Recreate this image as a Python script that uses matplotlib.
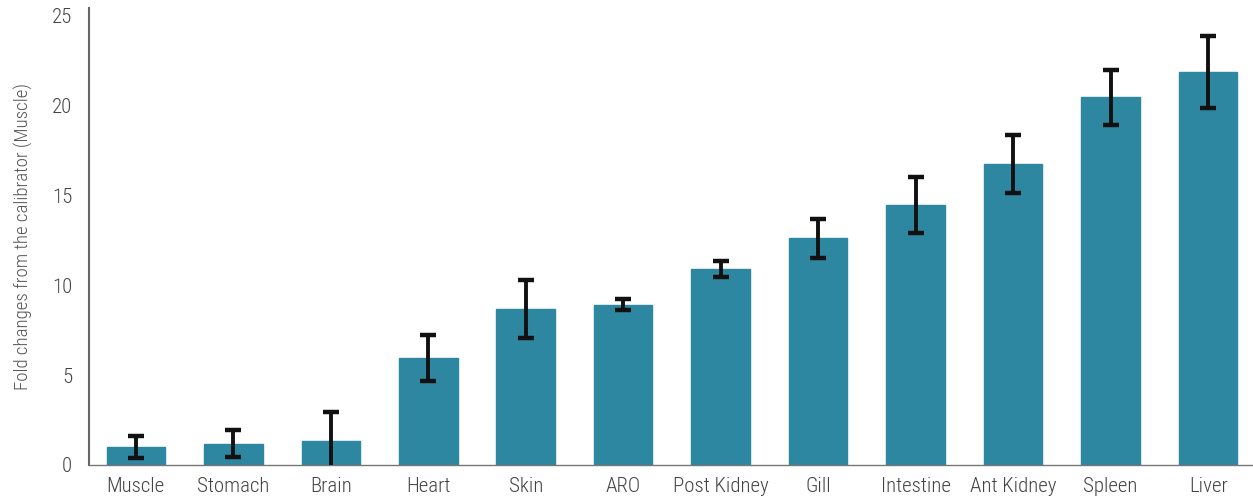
import matplotlib
matplotlib.use("Agg")
import matplotlib.pyplot as plt
from matplotlib import font_manager

categories = ["Muscle", "Stomach", "Brain", "Heart", "Skin", "ARO", "Post Kidney",
              "Gill", "Intestine", "Ant Kidney", "Spleen", "Liver"]
values = [1.0, 1.17, 1.33, 5.94, 8.67, 8.92, 10.89, 12.6, 14.44, 16.72, 20.44, 21.83]
errors = [0.62, 0.75, 1.6, 1.28, 1.6, 0.33, 0.45, 1.1, 1.55, 1.6, 1.53, 2.0]
yticks = [0, 5, 10, 15, 20, 25]

names = {f.name for f in font_manager.fontManager.ttflist}
fams = [n for n in ["Roboto Condensed", "Roboto"] if n in names] + ["DejaVu Sans"]
plt.rcParams['font.family'] = fams

fig = plt.figure(figsize=(12.53, 4.99), dpi=100)
ax = fig.add_axes([89/1253, 34/499, 1 - 89/1253, (465-8)/499])

x = list(range(len(categories)))
ax.bar(x, values, width=0.6, color="#2e87a0", edgecolor="#2e87a0", zorder=2)
ax.errorbar(x, values, yerr=errors, fmt="none", ecolor="#111111", elinewidth=2.8,
            capsize=6, capthick=3.2, zorder=3)

ax.set_xlim(-0.48, 11.46)
ax.set_ylim(0, 25.4)
ax.set_yticks(yticks)
ax.set_yticklabels([str(t) for t in yticks])
ax.set_xticks(x)
ax.set_xticklabels(categories)
for lab in ax.get_xticklabels() + ax.get_yticklabels():
    lab.set_fontweight("light")
ax.tick_params(axis="both", length=0, labelsize=15, colors="#444444")
ax.tick_params(axis="y", pad=12)
ax.tick_params(axis="x", pad=9)
ax.set_ylabel("Fold changes from the calibrator (Muscle)", fontsize=13.6, color="#555555",
              labelpad=14, fontweight="light")

for s in ["top", "right"]:
    ax.spines[s].set_visible(False)
ax.spines["left"].set_color("#666666")
ax.spines["left"].set_linewidth(1.5)
ax.spines["bottom"].set_color("#777777")
ax.spines["bottom"].set_linewidth(1.0)

fig.savefig("out.png", dpi=100)
